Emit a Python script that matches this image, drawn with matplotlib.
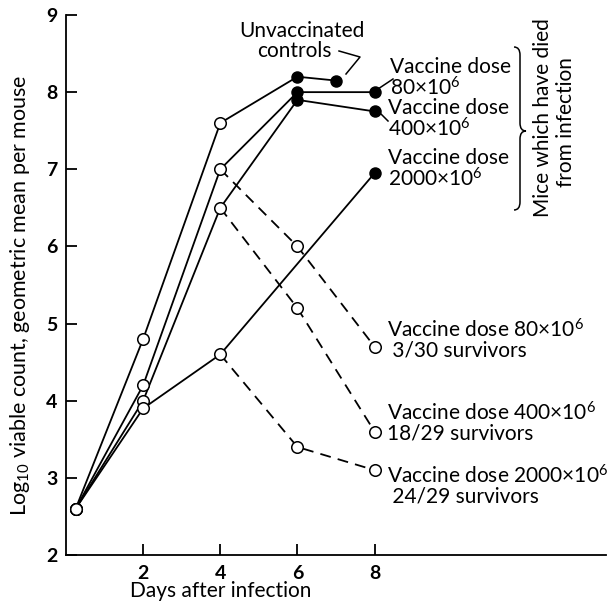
import matplotlib
matplotlib.use("Agg")
import matplotlib.pyplot as plt
from matplotlib.path import Path
from matplotlib.patches import PathPatch
from matplotlib.lines import Line2D

plt.rcParams['font.family'] = ['Lato', 'DejaVu Sans']
plt.rcParams['mathtext.fontset'] = 'custom'
plt.rcParams['mathtext.rm'] = 'Lato'
plt.rcParams['mathtext.default'] = 'regular'

# ---- data (days after infection, log10 viable count) ----
ctrl_x = [0.25, 2, 4, 6, 7]
ctrl_y = [2.6, 4.8, 7.6, 8.2, 8.15]
ctrl_filled = [False, False, False, True, True]

early_x = [0.25, 2, 4]
d80_early = [2.6, 4.2, 7.0]
d400_early = [2.6, 4.0, 6.5]
d2000_early = [2.6, 3.9, 4.6]

died_x = [4, 6, 8]
d80_died = [7.0, 8.0, 8.0]
d400_died = [6.5, 7.9, 7.75]
d2000_died_x = [4, 8]
d2000_died = [4.6, 6.95]

surv_x = [4, 6, 8]
d80_surv = [7.0, 6.0, 4.7]
d400_surv = [6.5, 5.2, 3.6]
d2000_surv = [4.6, 3.4, 3.1]

xticks = [2, 4, 6, 8]
yticks = [2, 3, 4, 5, 6, 7, 8, 9]

W, H = 610, 605
fig = plt.figure(figsize=(W / 100, H / 100), dpi=100)
ax = fig.add_axes([66 / W, 1 - 555 / H, (606 - 66) / W, (555 - 15) / H])
ax.set_xlim(0, 14)
ax.set_ylim(2, 9)
ax.spines['right'].set_visible(False)
ax.spines['top'].set_visible(False)
for s in ('left', 'bottom'):
    ax.spines[s].set_linewidth(1.3)

lw = 1.3
ms = 8.3
open_kw = dict(marker='o', ms=ms, mfc='white', mec='black', mew=1.1)
fill_kw = dict(marker='o', ms=ms * 0.95, mfc='black', mec='black', mew=1.1)

def solid(x, y):
    ax.plot(x, y, color='black', lw=lw, zorder=2)

def dashed(x, y):
    ax.plot(x, y, color='black', lw=lw, ls=(0, (6, 4)), zorder=2)

def marks(x, y, filled):
    for xi, yi, f in zip(x, y, filled):
        ax.plot([xi], [yi], zorder=3, **(fill_kw if f else open_kw))

solid(ctrl_x, ctrl_y)
solid(early_x, d80_early)
solid(early_x, d400_early)
solid(early_x, d2000_early)
solid(died_x, d80_died)
solid(died_x, d400_died)
solid(d2000_died_x, d2000_died)
dashed(surv_x, d80_surv)
dashed(surv_x, d400_surv)
dashed(surv_x, d2000_surv)

marks(ctrl_x, ctrl_y, ctrl_filled)
marks(early_x, d80_early, [False] * 3)
marks(early_x, d400_early, [False] * 3)
marks(early_x, d2000_early, [False] * 3)
marks(died_x[1:], d80_died[1:], [True, True])
marks(died_x[1:], d400_died[1:], [True, True])
marks(d2000_died_x[1:], d2000_died[1:], [True])
marks(surv_x[1:], d80_surv[1:], [False, False])
marks(surv_x[1:], d400_surv[1:], [False, False])
marks(surv_x[1:], d2000_surv[1:], [False, False])

ax.set_xticks(xticks)
ax.set_yticks(yticks)
ax.tick_params(axis='both', direction='in', length=8, width=1.3,
               labelsize=14)
ax.tick_params(axis='x', pad=7)
ax.tick_params(axis='y', pad=6)
for lab in ax.get_xticklabels() + ax.get_yticklabels():
    lab.set_fontweight('bold')

def P(x, y):
    return (x / W, 1 - y / H)

fs = 15
fig.text(*P(20, 295), r'Log$_{10}$ viable count, geometric mean per mouse',
         rotation=90, ha='center', va='center', fontsize=15.5)
fig.text(*P(221, 591), 'Days after infection', ha='center', va='center', fontsize=fs)

fig.text(*P(302, 21), 'Unvaccinated', ha='center', va='top', fontsize=fs)
fig.text(*P(294, 41), 'controls', ha='center', va='top', fontsize=fs)
# bracket to control points
fig.add_artist(Line2D([P(339, 51)[0], P(360, 57)[0], P(346, 74)[0]],
                      [P(339, 51)[1], P(360, 57)[1], P(346, 74)[1]],
                      color='black', lw=1.1))

fig.text(*P(390, 57), 'Vaccine dose\n80×$10^{6}$', ha='left', va='top',
         fontsize=fs, linespacing=0.95)
fig.add_artist(Line2D([P(378, 89)[0], P(393, 79)[0]], [P(378, 89)[1], P(393, 79)[1]],
                      color='black', lw=1.1))
fig.text(*P(388, 98), 'Vaccine dose\n400×$10^{6}$', ha='left', va='top',
         fontsize=fs, linespacing=0.95)
fig.add_artist(Line2D([P(380, 113)[0], P(388, 121)[0]], [P(380, 113)[1], P(388, 121)[1]],
                      color='black', lw=1.1))
fig.text(*P(388, 148), 'Vaccine dose\n2000×$10^{6}$', ha='left', va='top',
         fontsize=fs, linespacing=0.95)

fig.text(*P(387, 318), 'Vaccine dose 80×$10^{6}$\n 3/30 survivors', ha='left', va='top',
         fontsize=fs, linespacing=0.95)
fig.text(*P(387, 401), 'Vaccine dose 400×$10^{6}$\n18/29 survivors', ha='left', va='top',
         fontsize=fs, linespacing=0.95)
fig.text(*P(387, 464), 'Vaccine dose 2000×$10^{6}$\n 24/29 survivors', ha='left', va='top',
         fontsize=fs, linespacing=0.95)

# curly brace
verts = [P(514, 47), P(520, 47), P(520, 55),
         P(520, 123),
         P(520, 131), P(526, 131),
         P(520, 131), P(520, 139),
         P(520, 202),
         P(520, 210), P(514, 210)]
codes = [Path.MOVETO, Path.CURVE3, Path.CURVE3,
         Path.LINETO,
         Path.CURVE3, Path.CURVE3,
         Path.CURVE3, Path.CURVE3,
         Path.LINETO,
         Path.CURVE3, Path.CURVE3]
fig.add_artist(PathPatch(Path(verts, codes), transform=fig.transFigure,
                         fill=False, lw=1.1, color='black'))

fig.text(*P(543, 118), 'Mice which have died', rotation=90, ha='center', va='center',
         fontsize=fs)
fig.text(*P(566, 122), 'from infection', rotation=90, ha='center', va='center',
         fontsize=fs)

fig.savefig('out.png', dpi=100)
